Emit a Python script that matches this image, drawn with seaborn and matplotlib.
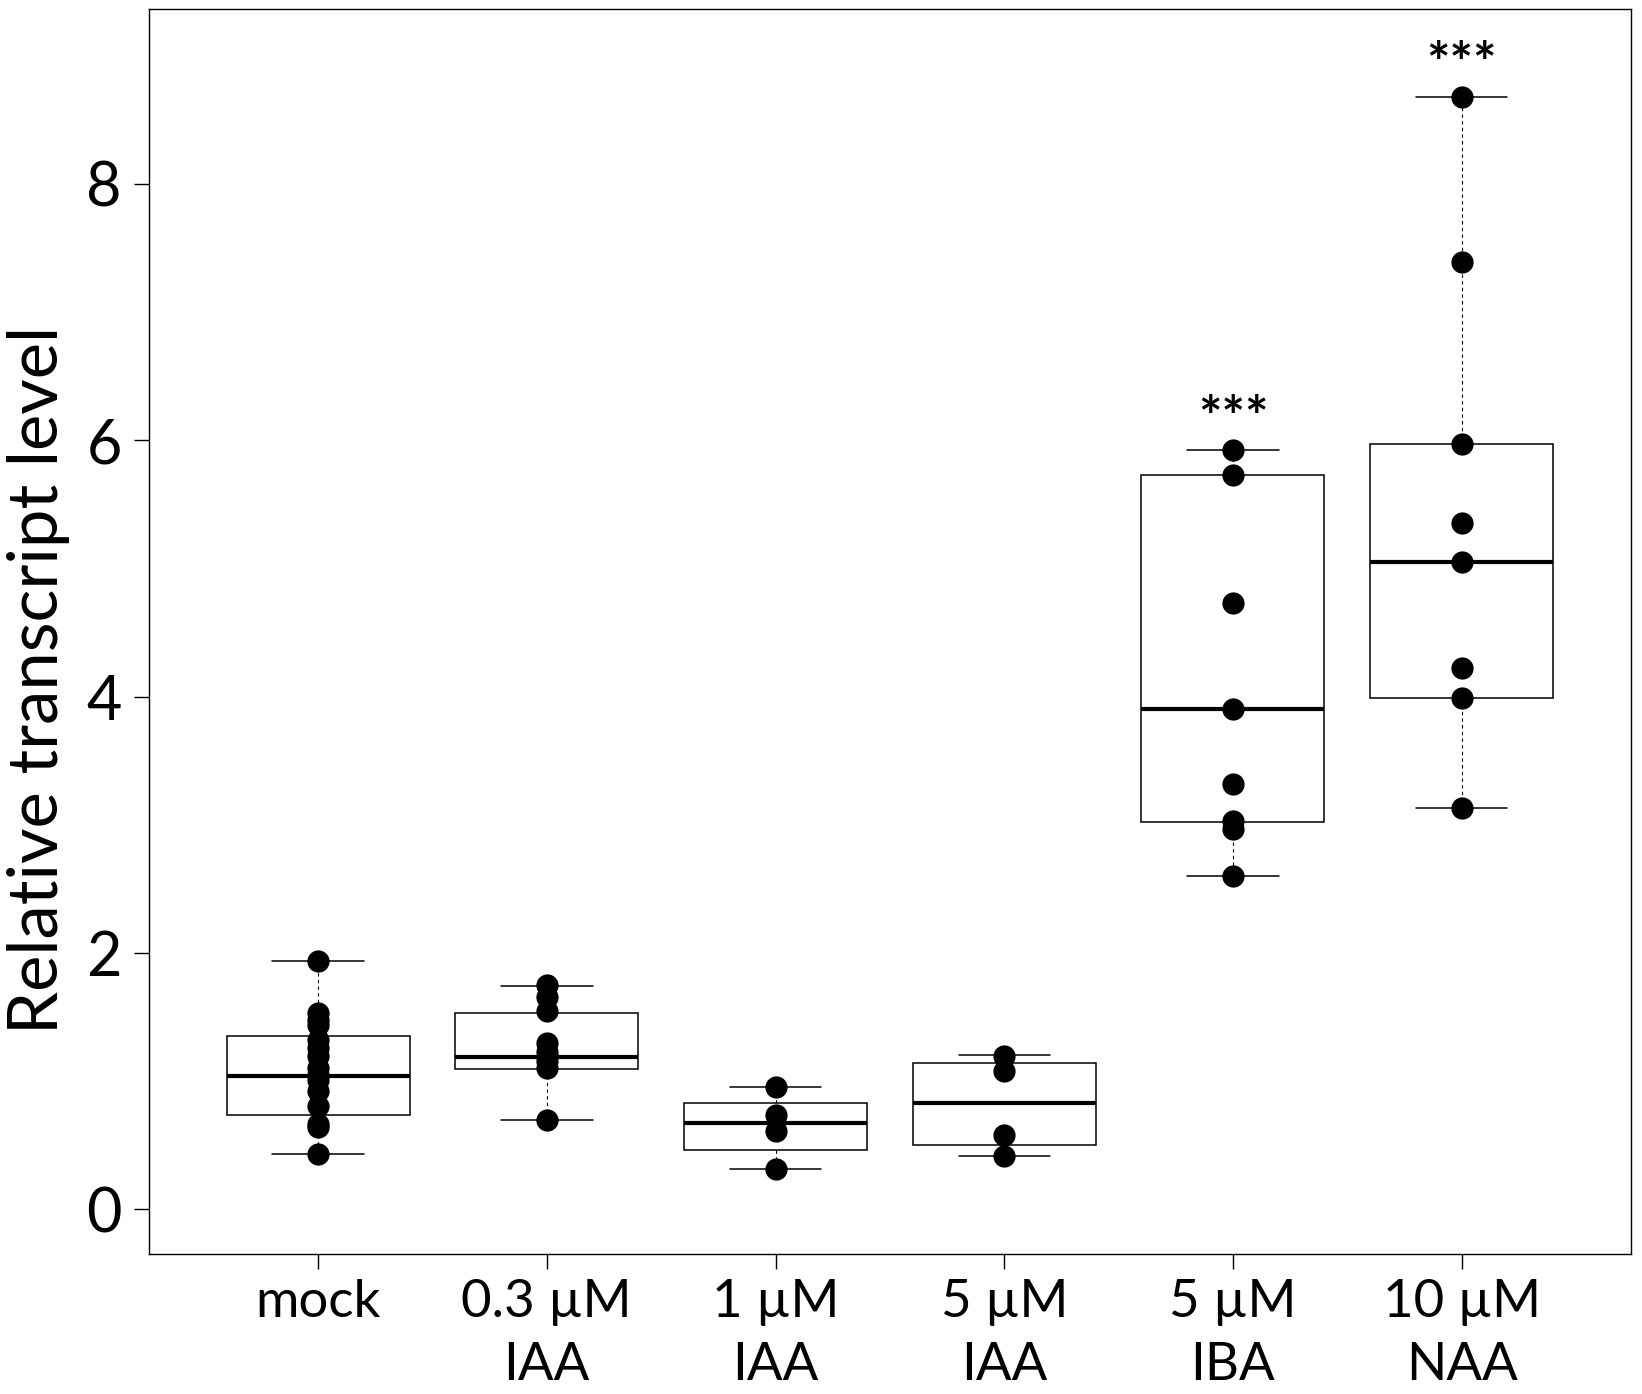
import pandas as pd
import matplotlib
matplotlib.use("Agg")
import matplotlib.pyplot as plt
import seaborn as sns

# grupos / tratamentos
groups = ["mock", "0.3 µM\nIAA", "1 µM\nIAA", "5 µM\nIAA", "5 µM\nIBA", "10 µM\nNAA"]

# pontos individuais
mock_pts = [1.94, 1.53, 1.48, 1.44, 1.32, 1.26, 1.20, 1.10, 1.05, 1.01, 0.92, 0.81, 0.67, 0.64, 0.43]
iaa03_pts = [1.75, 1.66, 1.55, 1.30, 1.23, 1.16, 1.10, 0.70]
iaa1_pts = [0.955, 0.74, 0.61, 0.312]
iaa5_pts = [1.20, 1.08, 0.58, 0.414]
iba5_pts = [5.92, 5.73, 4.73, 3.90, 3.32, 3.03, 2.97, 2.60]
naa10_pts = [8.68, 7.39, 5.97, 5.35, 5.05, 4.22, 3.99, 3.13]

# resumo de cinco numeros de cada caixa: min, Q1, mediana, Q3, max
mock_box = [0.43, 0.734, 1.038, 1.355, 1.94]
iaa03_box = [0.695, 1.093, 1.189, 1.535, 1.741]
iaa1_box = [0.312, 0.461, 0.674, 0.830, 0.955]
iaa5_box = [0.414, 0.500, 0.830, 1.139, 1.202]
iba5_box = [2.60, 3.02, 3.90, 5.73, 5.92]
naa10_box = [3.13, 3.99, 5.05, 5.97, 8.68]

signif = ["", "", "", "", "***", "***"]

pts = [mock_pts, iaa03_pts, iaa1_pts, iaa5_pts, iba5_pts, naa10_pts]
boxes = [mock_box, iaa03_box, iaa1_box, iaa5_box, iba5_box, naa10_box]

dados_pts = pd.DataFrame(
    [(g, v) for g, vals in zip(groups, pts) for v in vals], columns=["grupo", "valor"]
)
dados_box = pd.DataFrame(
    [(g, v) for g, vals in zip(groups, boxes) for v in vals], columns=["grupo", "valor"]
)

sns.set_style("white")
plt.rcParams["font.family"] = ["Lato", "DejaVu Sans"]
plt.rcParams["text.color"] = "black"
plt.rcParams["axes.labelcolor"] = "black"
plt.rcParams["xtick.color"] = "black"
plt.rcParams["ytick.color"] = "black"

fig, ax = plt.subplots(figsize=(16.42, 13.94), dpi=100)
fig.subplots_adjust(left=0.0906, right=0.9933, top=0.9933, bottom=0.1002)

sns.boxplot(
    data=dados_box, x="grupo", y="valor", order=groups, ax=ax,
    color="white", linecolor="black", saturation=1, width=0.8,
    whis=(0, 100), showfliers=False, linewidth=1.1,
    medianprops=dict(linewidth=3.0, color="black"),
    whiskerprops=dict(linestyle=(0, (3, 3)), linewidth=0.8),
    capprops=dict(linewidth=1.1),
)

sns.stripplot(
    data=dados_pts, x="grupo", y="valor", order=groups, ax=ax,
    color="black", size=16, jitter=False, zorder=3, linewidth=0,
)

# asteriscos de significancia
for i, (lab, vals) in enumerate(zip(signif, pts)):
    if lab:
        ax.text(i, max(vals) + 0.24, lab, ha="center", va="center",
                fontsize=40, fontweight="bold", color="black")

ax.set_xlim(-0.74, 5.74)
ax.set_ylim(-0.35, 9.36)
ax.set_yticks([0, 2, 4, 6, 8])
ax.set_xlabel("")
ax.set_ylabel("Relative transcript level", fontsize=49.5)
ax.yaxis.set_label_coords(-0.053, 0.461)

ax.tick_params(axis="y", labelsize=44, length=10.5, width=1, pad=9, direction="out", left=True)
ax.tick_params(axis="x", labelsize=38, length=10.5, width=1, pad=7, direction="out", bottom=True)
for t in ax.get_xticklabels():
    t.set_linespacing(1.42)

for s in ax.spines.values():
    s.set_visible(True)
    s.set_color("black")
    s.set_linewidth(1.0)

plt.savefig("out.png", dpi=100)
